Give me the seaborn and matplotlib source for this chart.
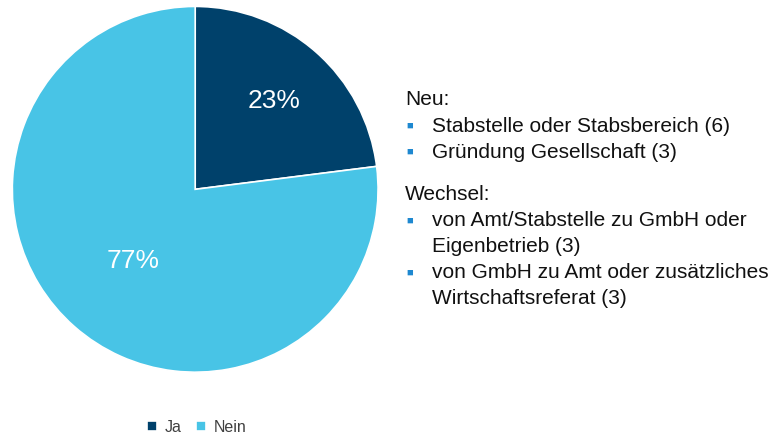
import matplotlib
matplotlib.use('Agg')
from matplotlib import pyplot as plt
import seaborn as sns

labels = ['Ja', 'Nein']
shares = [23, 77]
colors = ['#00416B', '#48C4E6']

# (heading, items) ; items may wrap onto a second line
blocks = [
    ('Neu:', [['Stabstelle oder Stabsbereich (6)'], ['Gründung Gesellschaft (3)']]),
    ('Wechsel:', [['von Amt/Stabstelle zu GmbH oder', 'Eigenbetrieb (3)'],
                  ['von GmbH zu Amt oder zusätzliches', 'Wirtschaftsreferat (3)']]),
]

sns.set_style('white')
plt.rcParams['font.family'] = ['Liberation Sans', 'DejaVu Sans']

fig = plt.figure(figsize=(7.7, 4.35), dpi=100)
ax = fig.add_axes([0.016, 0.142, 0.475, 0.841])
wedges, texts, autotexts = ax.pie(shares, colors=colors, startangle=90, counterclock=False,
                                  autopct='%d%%', pctdistance=0.65,
                                  wedgeprops=dict(edgecolor='white', linewidth=1.2),
                                  textprops=dict(color='white', fontsize=19))
# the big slice's label sits a bit closer to the centre
x, y = autotexts[1].get_position()
autotexts[1].set_position((x * 0.79, y * 0.79))
ax.set_xlim(-1, 1)
ax.set_ylim(-1, 1)
ax.set_aspect('equal')
ax.axis('off')

# annotation block on the right
txt_color = '#111111'
bullet_color = '#1E88D0'
fs = 15
step = 26
ypix = 100
for heading, items in blocks:
    fig.text(405 / 770, 1 - ypix / 435, heading, fontsize=fs, color=txt_color, va='center')
    ypix += step
    for lines in items:
        fig.text(410 / 770, 1 - ypix / 435, '\u25A0', fontsize=8, color=bullet_color,
                 va='center', ha='center')
        for line in lines:
            fig.text(432 / 770, 1 - ypix / 435, line, fontsize=fs, color=txt_color, va='center')
            ypix += step
    ypix += 17

leg = fig.legend(wedges, labels, loc='center', bbox_to_anchor=(197 / 770, 1 - 428 / 435),
                 ncol=2, frameon=False, fontsize=11.5, handlelength=0.6, handleheight=0.6,
                 handletextpad=0.5, columnspacing=0.9, labelcolor='#404040')

fig.savefig('out.png', dpi=100)
